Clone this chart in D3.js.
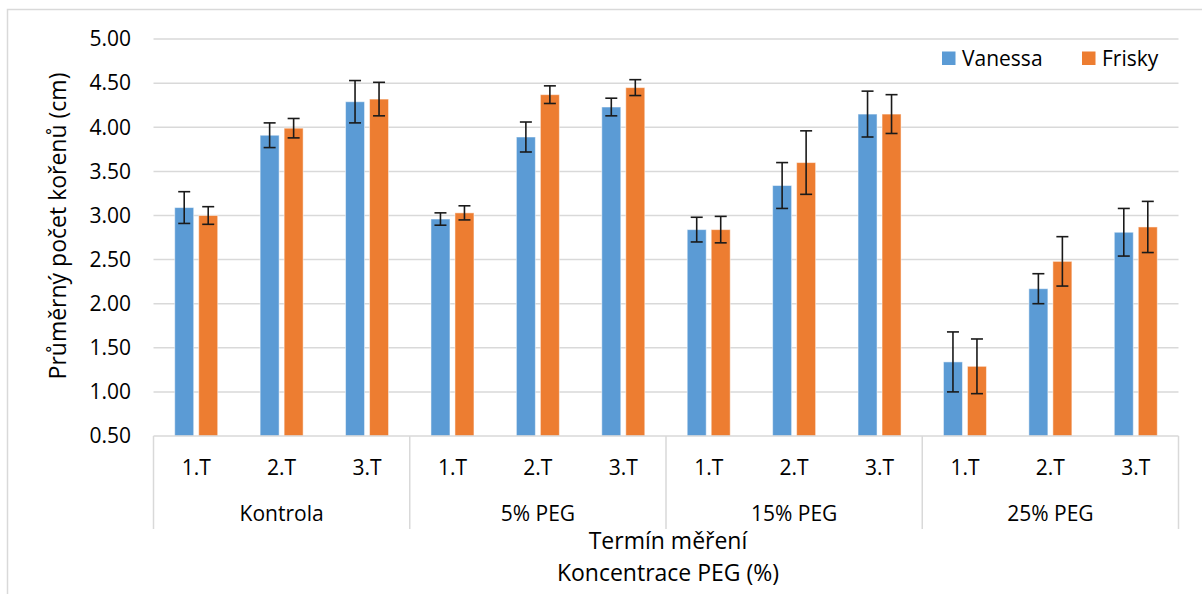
<!DOCTYPE html>
<html>
<head>
<meta charset="utf-8">
<script src="https://cdn.jsdelivr.net/npm/d3@7"></script>
<style>
  html, body { margin: 0; padding: 0; background: #fff; }
  svg { display: block; font-family: "Open Sans", sans-serif; }
</style>
</head>
<body>
<svg id="chart" width="1202" height="594"></svg>
<script>
const groups = ["Kontrola", "5% PEG", "15% PEG", "25% PEG"];
const terms = ["1.T", "2.T", "3.T"];
const seriesNames = ["Vanessa", "Frisky"];
const seriesColors = ["#5b9bd5", "#ed7d31"];
const vanessa    = [3.09, 3.91, 4.29, 2.96, 3.89, 4.23, 2.84, 3.34, 4.15, 1.34, 2.17, 2.81];
const vanessaErr = [0.18, 0.14, 0.24, 0.07, 0.17, 0.10, 0.14, 0.26, 0.26, 0.34, 0.17, 0.27];
const frisky     = [3.00, 3.99, 4.32, 3.03, 4.37, 4.45, 2.84, 3.60, 4.15, 1.29, 2.48, 2.87];
const friskyErr  = [0.10, 0.11, 0.19, 0.08, 0.10, 0.09, 0.15, 0.36, 0.22, 0.31, 0.28, 0.29];
const yTicks = [0.5, 1.0, 1.5, 2.0, 2.5, 3.0, 3.5, 4.0, 4.5, 5.0];

(function () {
const svg = d3.select("#chart");
const pL = 153.5, pR = 1178.5, pT = 39.1, pB = 436;
const gridColor = "#d9d9d9";
const fs = 21, fsT = 23;

// frame
svg.append("path").attr("d", "M7.5,600 V9.5 H1210")
  .attr("fill", "none").attr("stroke", gridColor).attr("stroke-width", 1.5);

const y = d3.scaleLinear().domain([0.5, 5.0]).range([pB, pT]);
const cats = [];
groups.forEach(g => terms.forEach(t => cats.push(g + "|" + t)));
const x = d3.scaleBand().domain(cats).range([pL, pR]);
const xg = d3.scaleBand().domain(groups).range([pL, pR]);

// gridlines
svg.append("g").selectAll("line").data(yTicks.slice(1)).join("line")
  .attr("x1", pL).attr("x2", pR)
  .attr("y1", d => y(d)).attr("y2", d => y(d))
  .attr("stroke", gridColor).attr("stroke-width", 1.5);

// y axis labels
const yAxis = d3.axisLeft(y).tickValues(yTicks).tickFormat(d3.format(".2f")).tickSize(0).tickPadding(0);
const yg = svg.append("g").attr("transform", `translate(${131},0)`).call(yAxis);
yg.select(".domain").remove();
yg.selectAll("text").attr("font-size", fs).attr("fill", "#000").attr("font-family", "Open Sans");

// bars
const data = [];
cats.forEach((c, i) => {
  data.push({c, s: "Vanessa", v: vanessa[i], e: vanessaErr[i], col: seriesColors[0]});
  data.push({c, s: "Frisky", v: frisky[i], e: friskyErr[i], col: seriesColors[1]});
});
const bw = 19;
const cx = d => x(d.c) + x.bandwidth() / 2 + (d.s === "Vanessa" ? -12 : 12);
svg.append("g").selectAll("rect").data(data).join("rect")
  .attr("x", d => cx(d) - bw / 2)
  .attr("width", bw)
  .attr("y", d => y(d.v))
  .attr("height", d => y(0.5) - y(d.v))
  .attr("fill", d => d.col)
  .attr("stroke", "#ffffff").attr("stroke-opacity", 0.5).attr("stroke-width", 1);

// error bars
const eg = svg.append("g").attr("stroke", "#1a1a1a").attr("stroke-width", 1.6);
data.forEach(d => {
  const xc = cx(d);
  eg.append("line").attr("x1", xc).attr("x2", xc).attr("y1", y(d.v + d.e)).attr("y2", y(d.v - d.e));
  eg.append("line").attr("x1", xc - 6).attr("x2", xc + 6).attr("y1", y(d.v + d.e)).attr("y2", y(d.v + d.e));
  eg.append("line").attr("x1", xc - 6).attr("x2", xc + 6).attr("y1", y(d.v - d.e)).attr("y2", y(d.v - d.e));
});

// x axis baseline
svg.append("line").attr("x1", pL).attr("x2", pR).attr("y1", pB).attr("y2", pB)
  .attr("stroke", gridColor).attr("stroke-width", 1.5);

// group separators
const seps = groups.map(g => xg(g)).concat([pR]);
svg.append("g").selectAll("line").data(seps).join("line")
  .attr("x1", d => d).attr("x2", d => d).attr("y1", pB).attr("y2", 529)
  .attr("stroke", gridColor).attr("stroke-width", 1.5);

// term labels
svg.append("g").selectAll("text").data(cats).join("text")
  .attr("x", d => x(d) + x.bandwidth() / 2)
  .attr("y", 475)
  .attr("text-anchor", "middle").attr("font-size", fs).attr("fill", "#000")
  .text(d => d.split("|")[1]);

// group labels
svg.append("g").selectAll("text").data(groups).join("text")
  .attr("x", d => xg(d) + xg.bandwidth() / 2)
  .attr("y", 521)
  .attr("text-anchor", "middle").attr("font-size", fs).attr("fill", "#000")
  .text(d => d);

// axis titles
svg.append("text").attr("x", 668).attr("y", 549).attr("text-anchor", "middle")
  .attr("font-size", fsT).attr("fill", "#000").text("Termín měření");
svg.append("text").attr("x", 668).attr("y", 581).attr("text-anchor", "middle")
  .attr("font-size", fsT).attr("fill", "#000").text("Koncentrace PEG (%)");
svg.append("text").attr("transform", "translate(66,226) rotate(-90)").attr("text-anchor", "middle")
  .attr("font-size", fsT).attr("fill", "#000").text("Průměrný počet kořenů (cm)");

// legend
const legX = [942, 1082];
const lg = svg.append("g");
seriesNames.forEach((s, i) => {
  lg.append("rect").attr("x", legX[i]).attr("y", 51.5).attr("width", 13.5).attr("height", 13.5).attr("fill", seriesColors[i]);
  lg.append("text").attr("x", legX[i] + 20).attr("y", 65.5).attr("font-size", fs).attr("fill", "#000").text(s);
});
})();
</script>
</body>
</html>
